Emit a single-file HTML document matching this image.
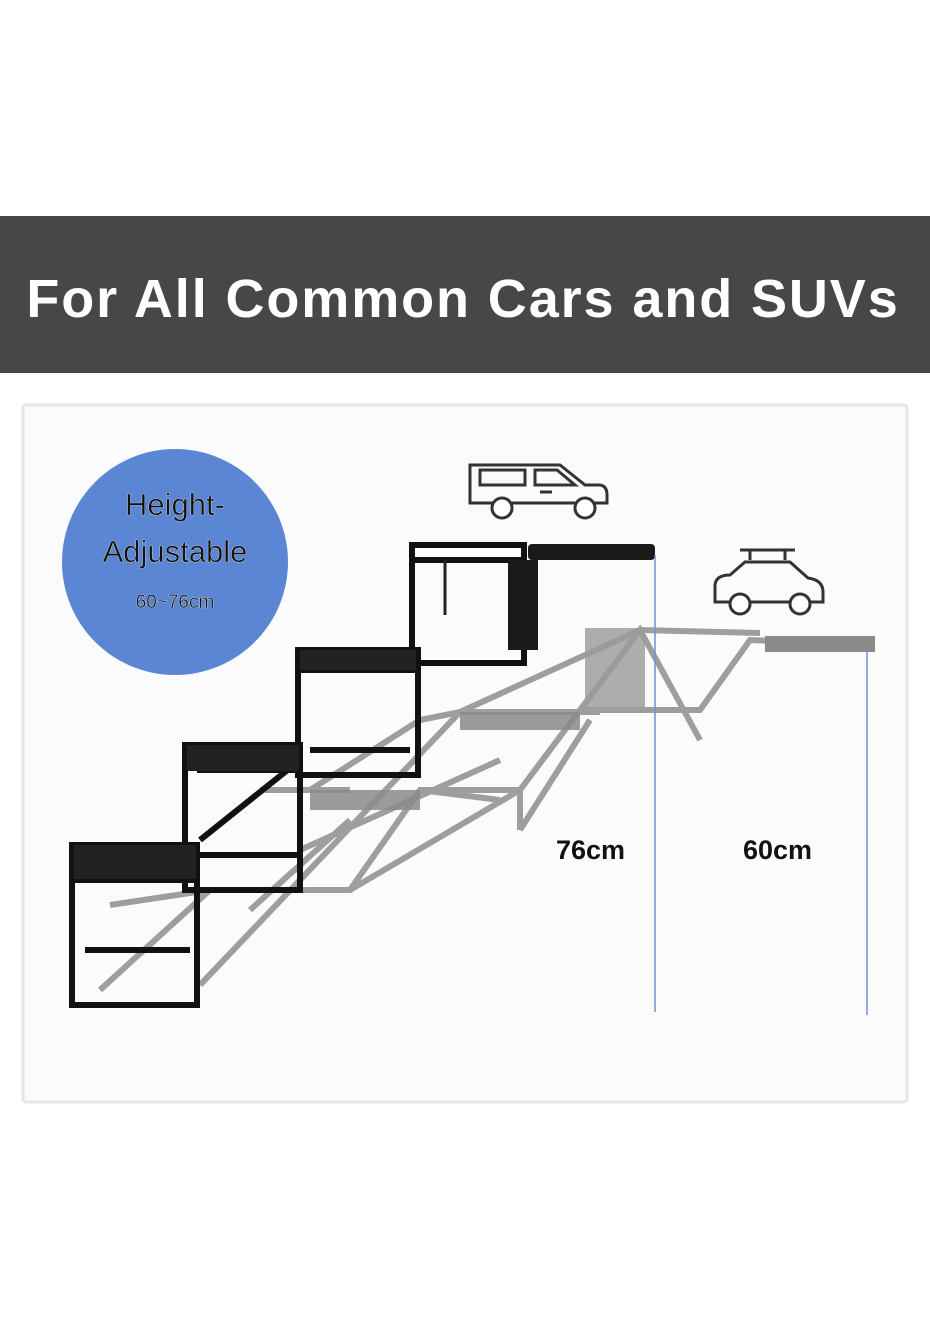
<!DOCTYPE html>
<html><head><meta charset="utf-8"><style>
html,body{margin:0;padding:0;background:#fff;}
body{width:930px;height:1320px;position:relative;overflow:hidden;font-family:"Liberation Sans",sans-serif;}
.band{position:absolute;left:0;top:216px;width:930px;height:157px;background:#474747;}
</style></head><body>
<div class="band"></div>
<svg width="930" height="1320" style="position:absolute;left:0;top:0">
<text x="463" y="317" text-anchor="middle" fill="#fff" font-family="Liberation Sans" font-weight="bold" font-size="54" letter-spacing="1.9">For All Common Cars and SUVs</text>
<rect x="23" y="405" width="884" height="697" fill="#fbfbfb" stroke="#e6e6e6" stroke-width="3" rx="3"/>
<circle cx="175" cy="562" r="113" fill="#5b86d4"/>
<g font-family="Liberation Sans" fill="#111" text-anchor="middle" stroke="#fff" stroke-width="0.3">
<text x="175" y="515" font-size="31">Height-</text>
<text x="175" y="562" font-size="31">Adjustable</text>
<text x="175" y="608" font-size="19">60~76cm</text>
</g>
<g fill="none" stroke="#333" stroke-width="3">
<path d="M470 500 V465 H560 L585 485 H600 Q607 486 607 495 V503 H470Z"/>
<path d="M480 470 H525 V485 H480Z M535 470 H557 L575 485 H535Z"/>
<line x1="540" y1="492" x2="552" y2="492"/>
<circle cx="502" cy="508" r="10" fill="#fff"/><circle cx="585" cy="508" r="10" fill="#fff"/>
<path d="M715 602 V585 Q716 575 730 575 L745 562 H790 L808 578 Q823 580 823 592 V602Z"/>
<line x1="740" y1="550" x2="795" y2="550"/><line x1="750" y1="550" x2="750" y2="560"/><line x1="785" y1="550" x2="785" y2="560"/>
<circle cx="740" cy="604" r="10" fill="#fff"/><circle cx="800" cy="604" r="10" fill="#fff"/>
</g>
<g stroke="#8e8e8e" stroke-width="6" fill="none" opacity="0.85">
<path d="M100 990 L210 890 L350 890 L420 790 L520 790 L580 710 L700 710 L750 640 L875 645"/>
<path d="M110 905 L210 890 M260 790 L350 790 M310 790 L420 720 L460 712 L600 712 M460 712 L640 630 L760 633"/>
<path d="M200 985 L460 712 M250 910 L350 820 M350 890 L520 790 L520 830 M580 710 L640 630 L700 740"/>
<path d="M420 790 L500 800 M300 850 L500 760 M520 830 L590 720"/>
</g>
<rect x="310" y="790" width="110" height="20" fill="#8a8a8a" opacity="0.85"/>
<rect x="460" y="712" width="120" height="18" fill="#8a8a8a" opacity="0.85"/>
<rect x="585" y="628" width="60" height="80" fill="#9a9a9a" opacity="0.8"/>
<rect x="765" y="636" width="110" height="16" fill="#8a8a8a"/>
<g stroke="#111" stroke-width="6" fill="none">
<rect x="72" y="845" width="125" height="160"/>
<line x1="72" y1="880" x2="197" y2="880"/><line x1="85" y1="950" x2="190" y2="950"/>
<rect x="185" y="745" width="115" height="145"/>
<line x1="197" y1="770" x2="300" y2="770"/><line x1="200" y1="855" x2="300" y2="855"/>
<rect x="298" y="650" width="120" height="125"/>
<line x1="298" y1="670" x2="418" y2="670"/><line x1="310" y1="750" x2="410" y2="750"/>
<rect x="412" y="545" width="112" height="118"/>
<line x1="412" y1="560" x2="524" y2="560"/>
<line x1="200" y1="840" x2="300" y2="760"/>
</g>
<rect x="74" y="845" width="122" height="34" fill="#222"/>
<rect x="187" y="745" width="112" height="26" fill="#222"/>
<rect x="300" y="650" width="116" height="20" fill="#222"/>
<rect x="508" y="560" width="30" height="90" fill="#1a1a1a"/>
<rect x="528" y="544" width="127" height="16" rx="4" fill="#1a1a1a"/>
<line x1="445" y1="560" x2="445" y2="615" stroke="#222" stroke-width="3"/>
<line x1="655" y1="555" x2="655" y2="1012" stroke="#6a95d0" stroke-width="1.5"/>
<line x1="867" y1="650" x2="867" y2="1015" stroke="#6a95d0" stroke-width="1.5"/>
<g font-family="Liberation Sans" font-weight="bold" font-size="27" fill="#111">
<text x="556" y="859">76cm</text><text x="743" y="859">60cm</text>
</g>
</svg>
</body></html>
